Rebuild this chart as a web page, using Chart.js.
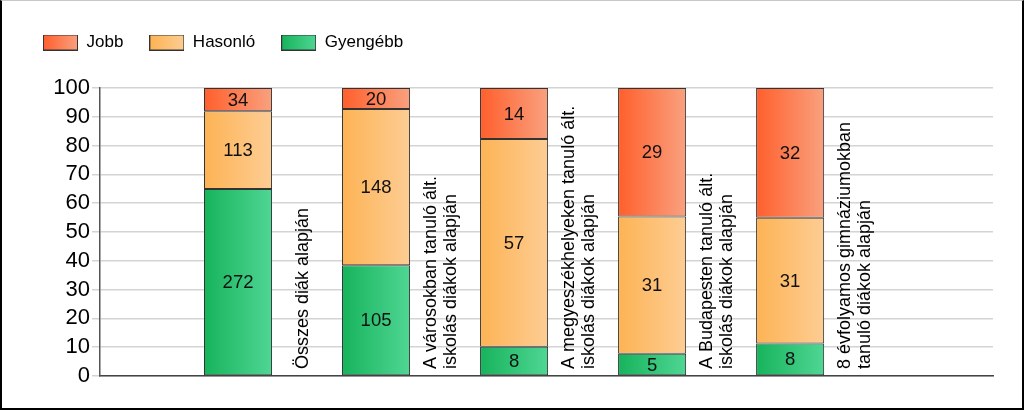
<!DOCTYPE html>
<html>
<head>
<meta charset="utf-8">
<script src="https://cdn.jsdelivr.net/npm/chart.js@4/dist/chart.umd.min.js"></script>
<style>
  html, body { margin: 0; padding: 0; background: #fff; }
  #wrap { position: relative; width: 1024px; height: 410px; }
  #frame {
    position: absolute; left: 0; top: 0; width: 1024px; height: 410px;
    box-sizing: border-box; border: 2px solid #000; border-top: 1px solid #c8c8c8;
    pointer-events: none;
  }
</style>
</head>
<body>
<div id="wrap">
  <canvas id="chart" width="1024" height="410"></canvas>
  <div id="frame"></div>
</div>
<script>
// ----------------- Data -----------------
const categories = [
  ["Összes diák alapján"],
  ["A városokban tanuló ált.", "iskolás diákok alapján"],
  ["A megyeszékhelyeken tanuló ált.", "iskolás diákok alapján"],
  ["A Budapesten tanuló ált.", "iskolás diákok alapján"],
  ["8 évfolyamos gimnáziumokban", "tanuló diákok alapján"]
];
const seriesNames = ["Jobb", "Hasonló", "Gyengébb"];
const jobb = [34, 20, 14, 29, 32];
const hasonlo = [113, 148, 57, 31, 31];
const gyengebb = [272, 105, 8, 5, 8];
const yTicks = [0, 10, 20, 30, 40, 50, 60, 70, 80, 90, 100];

// ----------------- Styles -----------------
const FONT = "'Liberation Sans', Arial, sans-serif";
const BAR_PCT = 0.493;
const colors = {
  Jobb: ["#ff5f2c", "#f9a17f"],
  "Hasonló": ["#fdb354", "#fdcd94"],
  "Gyengébb": ["#17b35c", "#4fd694"]
};

// ----------------- Helpers -----------------
const totals = jobb.map((v, i) => v + hasonlo[i] + gyengebb[i]);
const toPct = arr => arr.map((v, i) => ({ x: i + 1, y: v / totals[i] * 100 }));

function barFill(stops) {
  return ctx => {
    const xs = ctx.chart.scales.x;
    if (!xs || ctx.type !== "data") return stops[0];
    const cx = xs.getPixelForValue(ctx.dataIndex + 1);
    const half = (xs.getPixelForValue(1) - xs.getPixelForValue(0)) * BAR_PCT / 2;
    if (!isFinite(cx) || !isFinite(half)) return stops[0];
    const g = ctx.chart.ctx.createLinearGradient(cx - half, 0, cx + half, 0);
    g.addColorStop(0, stops[0]);
    g.addColorStop(1, stops[1]);
    return g;
  };
}

function legendSwatch(stops) {
  const c = document.createElement("canvas");
  c.width = 35;
  c.height = 16;
  const g = c.getContext("2d");
  const grad = g.createLinearGradient(0, 0, 35, 0);
  grad.addColorStop(0, stops[0]);
  grad.addColorStop(1, stops[1]);
  g.fillStyle = grad;
  g.fillRect(0, 0, 35, 16);
  g.strokeStyle = "#333";
  g.lineWidth = 1;
  g.strokeRect(0.5, 0.5, 34, 15);
  return c;
}

// ----------------- Plugins -----------------
// extra room under the legend
const legendGap = {
  id: "legendGap",
  beforeInit(chart) {
    const fit = chart.legend.fit;
    chart.legend.fit = function () {
      fit.call(this);
      this.height += 27;
    };
  }
};

const valueLabels = {
  id: "valueLabels",
  afterDatasetsDraw(chart) {
    const ctx = chart.ctx;
    ctx.save();
    ctx.font = "18.5px " + FONT;
    ctx.fillStyle = "#111";
    ctx.textAlign = "center";
    ctx.textBaseline = "middle";
    chart.data.datasets.forEach((ds, di) => {
      chart.getDatasetMeta(di).data.forEach((el, i) => {
        ctx.fillText(String(ds.counts[i]), el.x, (el.y + el.base) / 2 + 1);
      });
    });
    ctx.restore();
  }
};

const categoryLabels = {
  id: "categoryLabels",
  afterDatasetsDraw(chart) {
    const ctx = chart.ctx;
    const xs = chart.scales.x;
    const bottom = chart.chartArea.bottom;
    const unit = xs.getPixelForValue(1) - xs.getPixelForValue(0);
    ctx.save();
    ctx.font = "18px " + FONT;
    ctx.fillStyle = "#000";
    ctx.textAlign = "left";
    ctx.textBaseline = "middle";
    categories.forEach((lines, i) => {
      const cx = xs.getPixelForValue(i + 1) + unit * 0.47;
      ctx.save();
      ctx.translate(cx, bottom - 7);
      ctx.rotate(-Math.PI / 2);
      const lh = 20;
      const start = -(lines.length - 1) * lh / 2;
      lines.forEach((t, k) => ctx.fillText(t, 0, start + k * lh));
      ctx.restore();
    });
    ctx.restore();
  }
};

// ----------------- Chart -----------------
const counts = { Jobb: jobb, "Hasonló": hasonlo, "Gyengébb": gyengebb };
const stackOrder = ["Gyengébb", "Hasonló", "Jobb"];

new Chart(document.getElementById("chart"), {
  type: "bar",
  data: {
    datasets: stackOrder.map(name => ({
      label: name,
      data: toPct(counts[name]),
      counts: counts[name],
      stack: "s",
      backgroundColor: barFill(colors[name]),
      borderColor: "#333",
      borderWidth: 1,
      borderSkipped: false,
      barPercentage: BAR_PCT,
      categoryPercentage: 1
    }))
  },
  options: {
    responsive: false,
    animation: false,
    layout: { padding: { left: 17, right: 31, top: 8, bottom: 34 } },
    plugins: {
      tooltip: { enabled: false },
      legend: {
        position: "top",
        align: "start",
        labels: {
          font: { family: FONT, size: 17 },
          color: "#000",
          usePointStyle: true,
          pointStyleWidth: 35,
          boxHeight: 16,
          padding: 26,
          generateLabels: () => seriesNames.map(name => ({
            text: name,
            pointStyle: legendSwatch(colors[name]),
            fillStyle: colors[name][0],
            strokeStyle: "#333",
            lineWidth: 1,
            hidden: false,
            datasetIndex: stackOrder.indexOf(name)
          }))
        }
      }
    },
    scales: {
      x: {
        type: "linear",
        offset: false,
        min: 0,
        max: 6.47,
        afterBuildTicks: scale => {
          scale.ticks = categories.map((c, i) => ({ value: i + 1 }));
        },
        ticks: { display: false },
        grid: { display: false, drawTicks: false, offset: false },
        border: { display: true, color: "#444", width: 1.5 }
      },
      y: {
        stacked: true,
        min: 0,
        max: 100,
        afterBuildTicks: scale => { scale.ticks = yTicks.map(v => ({ value: v })); },
        afterFit: scale => { scale.width = 83; },
        ticks: {
          font: { family: FONT, size: 22 },
          color: "#000",
          padding: 2,
          autoSkip: false
        },
        grid: { color: "#d4d4d4", lineWidth: 1.5, tickLength: 8 },
        border: { display: true, color: "#555", width: 1.5 }
      }
    }
  },
  plugins: [legendGap, valueLabels, categoryLabels]
});
</script>
</body>
</html>
